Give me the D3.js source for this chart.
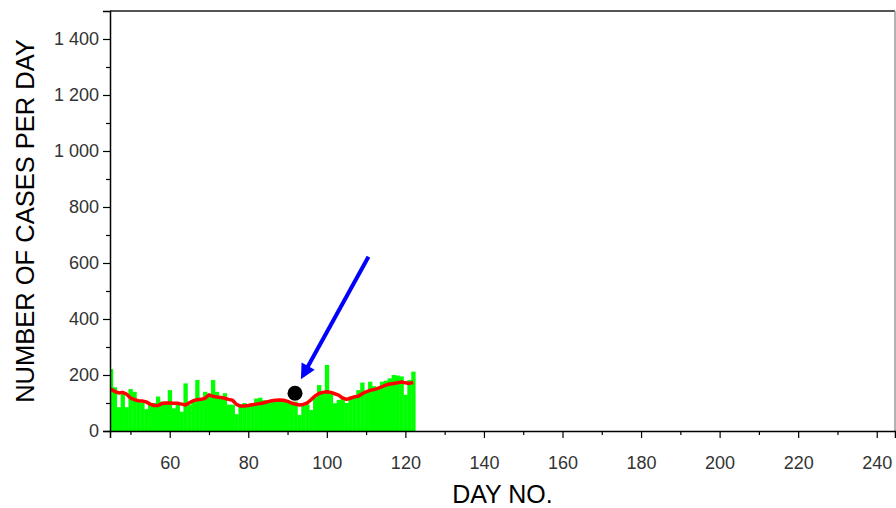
<!DOCTYPE html>
<html>
<head>
<meta charset="utf-8">
<script src="https://cdn.jsdelivr.net/npm/d3@7"></script>
<style>
  html, body { margin: 0; padding: 0; background: #fff; }
  svg { display: block; }
  text { font-family: "Liberation Sans", Arial, sans-serif; }
</style>
</head>
<body>
<svg id="chart" width="896" height="508"></svg>
<script>
// ---- data ----
const days = d3.range(45, 123); // day numbers 45..122
const dailyCases = [
  221, 156, 85, 140, 85, 150, 140, 111, 100,
  78, 94, 100, 123, 105, 100, 146, 81, 100, 69,
  170, 94, 111, 182, 111, 140, 123, 182, 140, 123,
  135, 94, 94, 60, 94, 100, 94, 100, 116, 119,
  110, 100, 110, 105, 108, 105, 110, 100, 105, 57,
  90, 95, 75, 120, 164, 135, 236, 140, 99, 111,
  115, 100, 123, 125, 146, 173, 140, 176, 160, 150,
  176, 180, 188, 200, 198, 195, 129, 182, 212
];
const movingAverage = [
  150, 141, 136, 138, 132, 118, 112, 108, 107, 104,
  96, 91, 91, 98, 100, 100, 99, 99, 96, 93,
  101, 108, 112, 113, 117, 129, 124, 121, 120, 117,
  113, 110, 95, 89, 89, 91, 94, 96, 98, 101,
  105, 108, 110, 111, 110, 106, 100, 96, 93, 95,
  100, 112, 125, 134, 138, 140, 138, 133, 128, 118,
  113, 117, 122, 124, 133, 140, 145, 148, 152, 158,
  164, 168, 170, 172, 175, 172, 170, 173
];
const markedPoint = [91.9, 135];          // black dot: [day, cases]
const arrowFrom = [110.6, 622];           // blue arrow tail: [day, cases]
const arrowTo = [93.4, 185];              // blue arrow tip: [day, cases]
const xMajorTicks = [60, 80, 100, 120, 140, 160, 180, 200, 220, 240];
const xMinorTicks = [50, 70, 90, 110, 130, 150, 170, 190, 210, 230];
const yMajorTicks = [0, 200, 400, 600, 800, 1000, 1200, 1400];
const yMinorTicks = [100, 300, 500, 700, 900, 1100, 1300];
const xTitle = "DAY NO.";
const yTitle = "NUMBER OF CASES PER DAY";

// ---- layout ----
const L = 110, T = 11, R = 895, B = 431;
const svg = d3.select("#chart");
const x = d3.scaleLinear().domain([44.8, 244.65]).range([L, R]);
const y = d3.scaleLinear().domain([0, 1500]).range([B, T]);
const fmt = d3.formatLocale({decimal: ".", thousands: " ", grouping: [3], currency: ["", ""]}).format(",");

svg.append("defs").append("clipPath").attr("id", "plot")
  .append("rect").attr("x", L).attr("y", T).attr("width", R - L).attr("height", B - T);

const g = svg.append("g").attr("clip-path", "url(#plot)");

// bars
g.selectAll("rect.bar").data(days).join("rect")
  .attr("class", "bar")
  .attr("x", d => x(d - 0.5))
  .attr("width", d => x(d + 0.5) - x(d - 0.5) + 0.4)
  .attr("y", (d, i) => y(dailyCases[i]))
  .attr("height", (d, i) => B - y(dailyCases[i]))
  .attr("fill", "#00ff00");

// moving average
g.append("path")
  .datum(days.map((d, i) => [d, movingAverage[i]]))
  .attr("fill", "none")
  .attr("stroke", "#ff0000")
  .attr("stroke-width", 3.5)
  .attr("stroke-linejoin", "round")
  .attr("d", d3.line().x(d => x(d[0])).y(d => y(d[1])));

// black dot
g.append("circle")
  .attr("cx", x(markedPoint[0])).attr("cy", y(markedPoint[1]))
  .attr("r", 7.5).attr("fill", "#000");

// arrow
{
  const x1 = x(arrowFrom[0]), y1 = y(arrowFrom[1]);
  const x2 = x(arrowTo[0]), y2 = y(arrowTo[1]);
  const ang = Math.atan2(y2 - y1, x2 - x1);
  const hl = 15, hw = 7.5;
  const bx = x2 - hl * Math.cos(ang), by = y2 - hl * Math.sin(ang);
  g.append("line")
    .attr("x1", x1).attr("y1", y1).attr("x2", bx + 2 * Math.cos(ang)).attr("y2", by + 2 * Math.sin(ang))
    .attr("stroke", "#0000ff").attr("stroke-width", 4);
  const px = -Math.sin(ang), py = Math.cos(ang);
  g.append("path")
    .attr("d", `M${x2},${y2}L${bx + hw * px},${by + hw * py}L${bx - hw * px},${by - hw * py}Z`)
    .attr("fill", "#0000ff");
}

// frame top & right
svg.append("line").attr("x1", L).attr("x2", R).attr("y1", T).attr("y2", T)
  .attr("stroke", "#555").attr("stroke-width", 2);
svg.append("line").attr("x1", R).attr("x2", R).attr("y1", T).attr("y2", B)
  .attr("stroke", "#999").attr("stroke-width", 1.5);

// x axis
svg.append("g").attr("transform", `translate(0,${B})`)
  .call(d3.axisBottom(x).tickValues(xMajorTicks).tickSize(7).tickPadding(18).tickFormat(d3.format("d")));
svg.append("g").attr("transform", `translate(0,${B})`)
  .call(d3.axisBottom(x).tickValues(xMinorTicks).tickSize(4).tickFormat(""))
  .select(".domain").remove();
// y axis
svg.append("g").attr("transform", `translate(${L},0)`)
  .call(d3.axisLeft(y).tickValues(yMajorTicks).tickSize(7).tickPadding(4).tickFormat(fmt));
svg.append("g").attr("transform", `translate(${L},0)`)
  .call(d3.axisLeft(y).tickValues(yMinorTicks).tickSize(4).tickFormat(""))
  .select(".domain").remove();

svg.selectAll(".domain").attr("stroke", "#000").attr("stroke-width", 1.5);
svg.selectAll(".tick line").attr("stroke", "#000").attr("stroke-width", 1.2);
svg.selectAll(".tick text").attr("font-size", 18).attr("fill", "#333")
  .attr("font-family", "'Liberation Sans', Arial, sans-serif");

// titles
svg.append("text").attr("x", (L + R) / 2).attr("y", 503)
  .attr("text-anchor", "middle").attr("font-size", 25).attr("fill", "#000").text(xTitle);
svg.append("text").attr("transform", `translate(34,${(T + B) / 2}) rotate(-90)`)
  .attr("text-anchor", "middle").attr("font-size", 25.5).attr("fill", "#000").text(yTitle);
</script>
</body>
</html>
